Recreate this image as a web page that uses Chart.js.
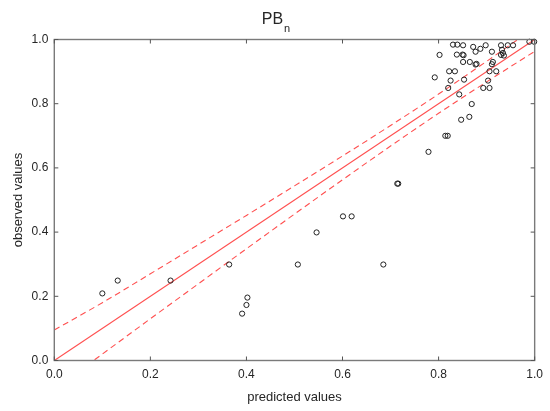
<!DOCTYPE html>
<html>
<head>
<meta charset="utf-8">
<script src="https://cdn.jsdelivr.net/npm/chart.js@4/dist/chart.umd.min.js"></script>
<style>
  html, body { margin: 0; padding: 0; background: #fff; }
  #wrap { width: 550px; height: 411px; position: relative; }
</style>
</head>
<body>
<div id="wrap"><canvas id="c"></canvas></div>
<script>
// Title
const titleMain = "PB";
const titleSub = "n";
const xTitle = "predicted values";
const yTitle = "observed values";
const tickValues = [0, 0.2, 0.4, 0.6, 0.8, 1.0];

// Observed vs predicted points
const predicted = [0.100,0.132,0.242,0.364,0.402,0.400,0.391,0.507,0.546,0.601,0.619,0.685,0.714,0.716,0.779,0.814,0.819,0.847,0.864,0.869,0.843,0.820,0.893,0.906,0.825,0.853,0.903,0.792,0.822,0.834,0.906,0.920,0.877,0.879,0.911,0.851,0.865,0.913,0.802,0.838,0.850,0.852,0.877,0.887,0.872,0.911,0.830,0.839,0.851,0.898,0.930,0.944,0.955,0.930,0.934,0.932,0.936,0.989,0.999];
const observed  = [0.209,0.249,0.249,0.299,0.196,0.173,0.146,0.299,0.399,0.449,0.449,0.299,0.551,0.551,0.650,0.700,0.700,0.750,0.759,0.799,0.829,0.849,0.849,0.849,0.872,0.875,0.872,0.882,0.901,0.901,0.901,0.901,0.922,0.924,0.923,0.930,0.930,0.930,0.952,0.953,0.953,0.951,0.962,0.971,0.977,0.962,0.984,0.984,0.982,0.982,0.982,0.982,0.982,0.952,0.958,0.968,0.950,0.993,0.993];

// Fit line (observed = predicted)
const fitX = [0, 1];
const fitY = [0, 1];

// Dashed confidence band
const bandX     = [0, 0.1, 0.2, 0.3, 0.4, 0.5, 0.6, 0.7, 0.8, 0.9, 1.0];
const bandUpper = [0.095, 0.180, 0.270, 0.361, 0.452, 0.544, 0.637, 0.732, 0.830, 0.932, 1.037];
const bandLower = [-0.090, 0.020, 0.130, 0.239, 0.348, 0.456, 0.563, 0.668, 0.770, 0.868, 0.963];

const pts = (xs, ys) => xs.map((x, i) => ({x: x, y: ys[i]}));

const RED = '#ff5050';
const TEXT = '#262626';
const FONT = "Arial, 'Liberation Sans', sans-serif";

const framePlugin = {
  id: 'frame',
  afterDraw(chart) {
    const ctx = chart.ctx;
    const a = chart.chartArea;
    const xs = chart.scales.x, ys = chart.scales.y;
    ctx.save();
    ctx.strokeStyle = '#7a7a7a';
    ctx.lineWidth = 1.4;
    ctx.strokeRect(a.left, a.top, a.right - a.left, a.bottom - a.top);
    const L = 4;
    ctx.lineWidth = 1;
    ctx.strokeStyle = '#555';
    ctx.beginPath();
    tickValues.forEach(v => {
      const px = xs.getPixelForValue(v);
      ctx.moveTo(px, a.bottom); ctx.lineTo(px, a.bottom - L);
      ctx.moveTo(px, a.top); ctx.lineTo(px, a.top + L);
      const py = ys.getPixelForValue(v);
      ctx.moveTo(a.left, py); ctx.lineTo(a.left + L, py);
      ctx.moveTo(a.right, py); ctx.lineTo(a.right - L, py);
    });
    ctx.stroke();
    // title with subscript
    ctx.fillStyle = TEXT;
    ctx.textBaseline = 'alphabetic';
    ctx.textAlign = 'left';
    ctx.font = "16px " + FONT;
    const w1 = ctx.measureText(titleMain).width;
    ctx.font = "11px " + FONT;
    const w2 = ctx.measureText(titleSub).width;
    const cx = 276;
    const x0 = cx - (w1 + 1 + w2) / 2;
    ctx.font = "16px " + FONT;
    ctx.fillText(titleMain, x0, 23.5);
    ctx.font = "11px " + FONT;
    ctx.fillText(titleSub, x0 + w1 + 1, 31.5);
    ctx.restore();
  }
};

new Chart(document.getElementById('c'), {
  type: 'scatter',
  data: {
    datasets: [
      {
        label: 'points',
        data: pts(predicted, observed),
        pointStyle: 'circle',
        pointRadius: 2.6,
        pointBorderWidth: 1,
        borderColor: '#222',
        backgroundColor: 'rgba(0,0,0,0)',
        showLine: false,
        clip: false,
        order: 0
      },
      {
        label: 'fit',
        data: pts(fitX, fitY),
        showLine: true,
        borderColor: RED,
        borderWidth: 1.1,
        pointRadius: 0,
        fill: false,
        order: 1
      },
      {
        label: 'upper',
        data: pts(bandX, bandUpper),
        showLine: true,
        borderColor: RED,
        borderWidth: 1.1,
        borderDash: [6, 4],
        pointRadius: 0,
        cubicInterpolationMode: 'monotone',
        fill: false,
        order: 1
      },
      {
        label: 'lower',
        data: pts(bandX, bandLower),
        showLine: true,
        borderColor: RED,
        borderWidth: 1.1,
        borderDash: [6, 4],
        pointRadius: 0,
        cubicInterpolationMode: 'monotone',
        fill: false,
        order: 1
      }
    ]
  },
  options: {
    responsive: true,
    maintainAspectRatio: false,
    animation: false,
    layout: { padding: { top: 39.5, right: 12.7, left: 0, bottom: 0 } },
    plugins: {
      legend: { display: false },
      title: { display: false },
      tooltip: { enabled: false }
    },
    scales: {
      x: {
        type: 'linear',
        min: 0, max: 1,
        afterFit: s => { s.height = 50.5; },
        afterBuildTicks: s => { s.ticks = tickValues.map(v => ({value: v})); },
        grid: { display: false, drawTicks: false },
        border: { display: false },
        ticks: {
          padding: 7,
          color: TEXT,
          font: { family: FONT, size: 12 },
          callback: v => Number(v).toFixed(1),
          maxRotation: 0
        },
        title: {
          display: true,
          text: xTitle,
          color: TEXT,
          font: { family: FONT, size: 13 },
          padding: { top: 4, bottom: 6 }
        }
      },
      y: {
        type: 'linear',
        min: 0, max: 1,
        afterFit: s => { s.width = 54.3; },
        afterBuildTicks: s => { s.ticks = tickValues.map(v => ({value: v})); },
        grid: { display: false, drawTicks: false },
        border: { display: false },
        ticks: {
          padding: 6,
          color: TEXT,
          font: { family: FONT, size: 12 },
          callback: v => Number(v).toFixed(1)
        },
        title: {
          display: true,
          text: yTitle,
          color: TEXT,
          font: { family: FONT, size: 13 },
          padding: { top: 11, bottom: 4 }
        }
      }
    }
  },
  plugins: [framePlugin]
});
</script>
</body>
</html>
